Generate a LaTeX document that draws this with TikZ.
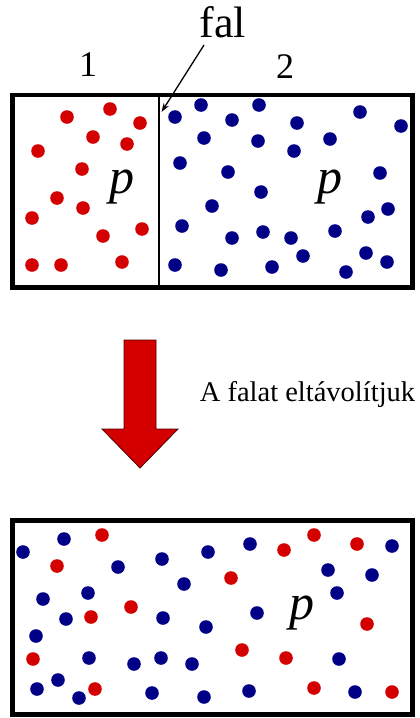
\documentclass[tikz,border=0pt]{standalone}
\usepackage{fontspec}
\setmainfont{Liberation Serif}
\usetikzlibrary{arrows.meta}
\definecolor{dotred}{RGB}{212,0,0}
\definecolor{dotblue}{RGB}{0,0,135}
\definecolor{arrred}{RGB}{212,0,0}
\begin{document}
\begin{tikzpicture}[x=1pt,y=-1pt,
  box/.style={draw=black,line width=4.6pt},
  wall/.style={draw=black,line width=2.4pt},
  rd/.style={fill=dotred},
  bd/.style={fill=dotblue},
  lbl/.style={inner sep=0pt,font=\fontsize{36}{40}\selectfont},
  pl/.style={inner sep=0pt,font=\fontsize{50}{54}\selectfont\itshape},
]
\useasboundingbox (0,0) rectangle (420,718);
\def\R{6.8}
% top container
\draw[box] (12.5,95) rectangle (412.5,287.5);
\draw[wall] (159,95) -- (159,287.5);
\coordinate (wallpt) at (161.5,112);
% red dots (left part)
\foreach \x/\y in {67/117,110/109,140/123,93/137,127/144,38/151,82/169,57/198,83/208,32/218,103/236,142/229,32/265,61/265,122/262}
  \fill[rd] (\x,\y) circle (\R);
% blue dots (right part)
\foreach \x/\y in {175/117,201/105,232/120,259/105,297/123,360/112,401/126,204/138,258/141,294/151,330/139,180/163,228/172,261/192,380/173,212/206,388/209,368/217,182/226,232/238,263/232,291/238,335/231,303/256,366/253,387/262,175/265,221/270,272/267,346/272}
  \fill[bd] (\x,\y) circle (\R);
\node[pl] (p1) at (122,187) {p};
\node[pl] (p2) at (330,187) {p};
\node[lbl] (n1) at (88,65) {1};
\node[lbl] (n2) at (285,67) {2};
\node[lbl,font=\fontsize{44}{48}\selectfont] (fal) at (223,22) {fal};
\draw[line width=1.3pt,-{Stealth[length=9pt,width=6pt]}] (204,45) -- (wallpt);
% big red arrow
\draw[fill=arrred,draw=black!70!red,line width=0.8pt]
  (124,340) -- (156,340) -- (156,429) -- (178,429) -- (140,468) -- (102,429) -- (124,429) -- cycle;
\node[inner sep=0pt,font=\fontsize{28.5}{32}\selectfont] (txt) at (307.5,394) {A falat eltávolítjuk};
% bottom container
\draw[box] (12.5,520.5) rectangle (412.5,714.5);
\foreach \x/\y in {102/535,57/566,131/607,91/617,33/659,95/689,284/550,314/535,357/544,231/578,367/624,242/650,286/658,314/688,392/692}
  \fill[rd] (\x,\y) circle (\R);
\foreach \x/\y in {23/552,64/539,118/567,162/559,184/584,43/599,88/593,66/619,163/618,36/636,89/658,134/664,161/658,192/664,58/680,37/689,79/698,152/693,204/697,208/552,206/627,250/544,392/546,328/570,372/575,337/593,257/613,339/659,249/691,355/692}
  \fill[bd] (\x,\y) circle (\R);
\node[pl] (p3) at (302,613) {p};
\end{tikzpicture}
\end{document}
